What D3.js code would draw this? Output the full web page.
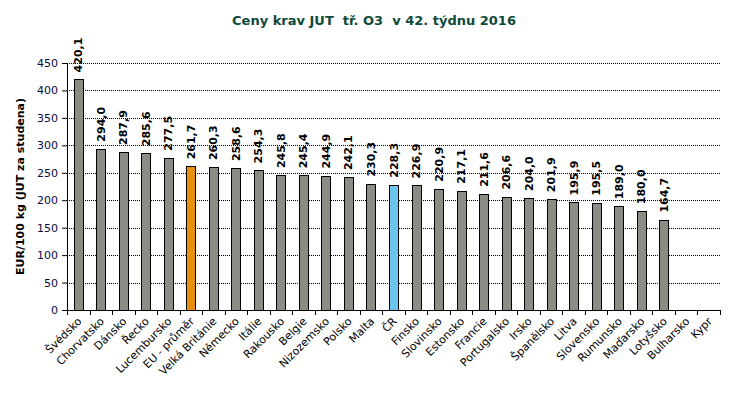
<!DOCTYPE html>
<html>
<head>
<meta charset="utf-8">
<script src="https://cdn.jsdelivr.net/npm/d3@7"></script>
<style>
  body { margin: 0; background: #fff; }
  svg { font-family: Verdana, "DejaVu Sans", sans-serif; }
</style>
</head>
<body>
<svg width="734" height="400"></svg>
<script>
const countries = ["Švédsko", "Chorvatsko", "Dánsko", "Řecko", "Lucembursko", "EU - průměr",
  "Velká Británie", "Německo", "Itálie", "Rakousko", "Belgie", "Nizozemsko", "Polsko", "Malta",
  "ČR", "Finsko", "Slovinsko", "Estonsko", "Francie", "Portugalsko", "Irsko", "Španělsko",
  "Litva", "Slovensko", "Rumunsko", "Maďarsko", "Lotyšsko", "Bulharsko", "Kypr"];
const prices = [420.1, 294.0, 287.9, 285.6, 277.5, 261.7, 260.3, 258.6, 254.3, 245.8, 245.4,
  244.9, 242.1, 230.3, 228.3, 226.9, 220.9, 217.1, 211.6, 206.6, 204.0, 201.9, 195.9, 195.5,
  189.0, 180.0, 164.7, null, null];
const yTicks = [0, 50, 100, 150, 200, 250, 300, 350, 400, 450];

const titleText = "Ceny krav JUT  tř. O3  v 42. týdnu 2016";
const yAxisLabelText = "EUR/100 kg (JUT za studena)";

const svg = d3.select('svg');
const margin = { top: 63, right: 14, bottom: 90, left: 67 };
const innerWidth = 734 - margin.left - margin.right;
const innerHeight = 400 - margin.top - margin.bottom;

const data = countries.map((c, i) => ({ country: c, price: prices[i] }));

const xScale = d3.scaleBand()
    .domain(countries)
    .range([0, innerWidth]);

const yScale = d3.scaleLinear()
    .domain([0, 450])
    .range([innerHeight, 0]);

const g = svg.append('g')
    .attr('transform', `translate(${margin.left},${margin.top})`);

// gridlines
g.append('g')
    .selectAll('line')
    .data(yTicks.filter(d => d > 0))
    .enter()
    .append('line')
    .attr('x1', 0)
    .attr('x2', innerWidth)
    .attr('y1', d => Math.round(yScale(d)) + 0.5)
    .attr('y2', d => Math.round(yScale(d)) + 0.5)
    .attr('stroke', '#000')
    .attr('stroke-dasharray', '1,1');

// bars
const barWidth = 9;
g.selectAll('rect')
    .data(data.filter(d => d.price != null))
    .enter()
    .append('rect')
    .attr('x', d => Math.round(xScale(d.country) + xScale.bandwidth() / 2 - barWidth / 2) + 0.5)
    .attr('y', d => Math.round(yScale(d.price)) + 0.5)
    .attr('width', barWidth)
    .attr('height', d => Math.round(innerHeight - yScale(d.price)))
    .attr('fill', d => d.country === 'EU - průměr' ? '#E8900C' : d.country === 'ČR' ? '#6CC6EA' : '#8C8B84')
    .attr('stroke', '#000')
    .attr('stroke-width', 1);

// value labels
g.selectAll('.val')
    .data(data.filter(d => d.price != null))
    .enter()
    .append('text')
    .attr('class', 'val')
    .attr('transform', d => `translate(${xScale(d.country) + xScale.bandwidth() / 2 + 4},${yScale(d.price) - 7}) rotate(-90)`)
    .style('font-size', '11px')
    .style('font-weight', 'bold')
    .attr('fill', '#000')
    .text(d => d.price.toFixed(1).replace('.', ','));

// y axis
const yAxisG = g.append('g')
    .call(d3.axisLeft(yScale).tickValues(yTicks).tickSize(5).tickPadding(4));
yAxisG.select('.domain').attr('stroke', '#000');
yAxisG.selectAll('text')
    .style('font-size', '11px')
    .style('font-family', 'Verdana, "DejaVu Sans", sans-serif')
    .attr('fill', '#0a0a40');

// x axis
const xAxisG = g.append('g')
    .attr('transform', `translate(0,${innerHeight})`)
    .call(d3.axisBottom(xScale).tickSize(0).tickPadding(0));
xAxisG.select('.domain').attr('stroke', '#000');
xAxisG.selectAll('.tick line').remove();
xAxisG.selectAll('text')
    .style('font-size', '11px')
    .style('font-family', 'Verdana, "DejaVu Sans", sans-serif')
    .style('text-anchor', 'end')
    .attr('fill', '#000')
    .attr('dy', 0)
    .attr('transform', 'translate(4,12) rotate(-45)');

// tick marks between categories
g.append('g')
    .selectAll('line')
    .data(countries.map((c, i) => i).concat([countries.length]))
    .enter()
    .append('line')
    .attr('x1', i => Math.round(i * xScale.step()) + 0.5)
    .attr('x2', i => Math.round(i * xScale.step()) + 0.5)
    .attr('y1', innerHeight)
    .attr('y2', innerHeight + 5)
    .attr('stroke', '#000');

// y axis label
svg.append('text')
    .attr('transform', `translate(24,${margin.top + innerHeight / 2}) rotate(-90)`)
    .style('text-anchor', 'middle')
    .style('font-size', '11px')
    .style('font-weight', 'bold')
    .attr('fill', '#000')
    .text(yAxisLabelText);

// title
svg.append('text')
    .attr('x', 374)
    .attr('y', 25)
    .style('text-anchor', 'middle')
    .style('font-size', '13px')
    .style('font-weight', 'bold')
    .style('white-space', 'pre')
    .attr('fill', '#0E4A3A')
    .text(titleText);
</script>
</body>
</html>
